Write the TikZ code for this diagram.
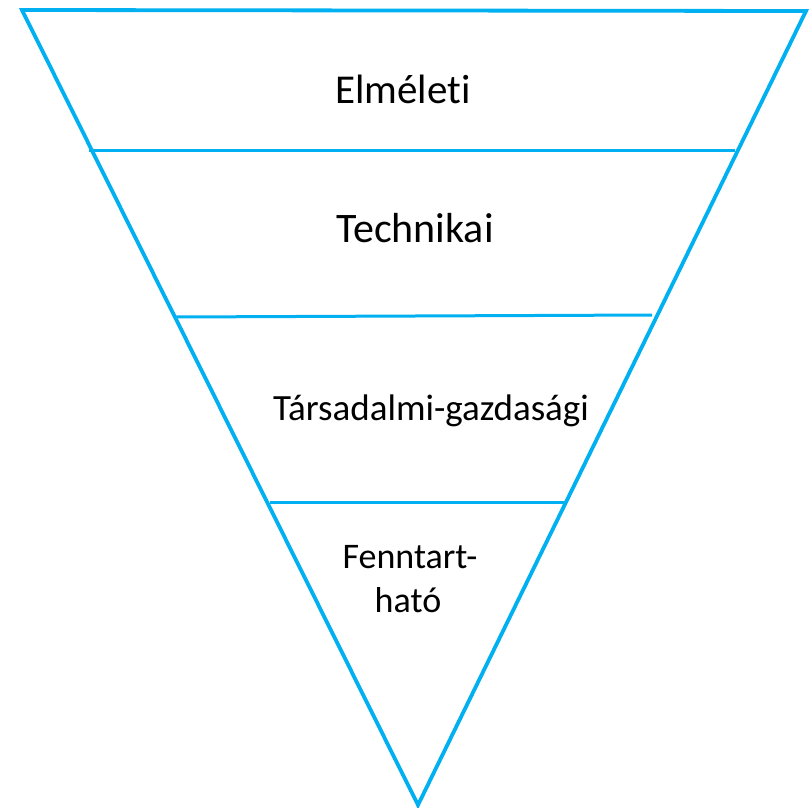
\documentclass[tikz,border=0pt]{standalone}
\usepackage{fontspec}
\setmainfont{Carlito}[Ligatures=NoCommon]
\definecolor{funnelblue}{HTML}{00B0F0}
\begin{document}
\begin{tikzpicture}[x=1pt,y=-1pt,
  edge/.style={draw=funnelblue,line width=3.8pt},
  bar/.style={draw=funnelblue,line width=3pt},
  lbl/.style={anchor=base,inner sep=0pt,text=black}]
\useasboundingbox (0,0) rectangle (812,807);
\coordinate (tl) at (22,10);
\coordinate (tr) at (806,11);
\coordinate (bt) at (418,805);
\draw[edge,line join=miter] (tl) -- (tr) -- (bt) -- cycle;
\coordinate (a1) at (89,150); \coordinate (b1) at (735,150);
\coordinate (a2) at (175,317); \coordinate (b2) at (652,315);
\coordinate (a3) at (270,502); \coordinate (b3) at (566,502);
\draw[bar] (a1) -- (b1);
\draw[bar] (a2) -- (b2);
\draw[bar] (a3) -- (b3);
\node[lbl,font=\fontsize{41}{48}\selectfont] (t1) at (403,103) {Elméleti};
\node[lbl,font=\fontsize{42}{48}\selectfont] (t2) at (415,242) {Technikai};
\node[lbl,font=\fontsize{37}{44}\selectfont] (t3) at (431,420) {Társadalmi-gazdasági};
\node[lbl,font=\fontsize{36}{44}\selectfont] (t4) at (410,568) {Fenntart-};
\node[lbl,font=\fontsize{36}{44}\selectfont] (t5) at (408,612) {ható};
\end{tikzpicture}
\end{document}
